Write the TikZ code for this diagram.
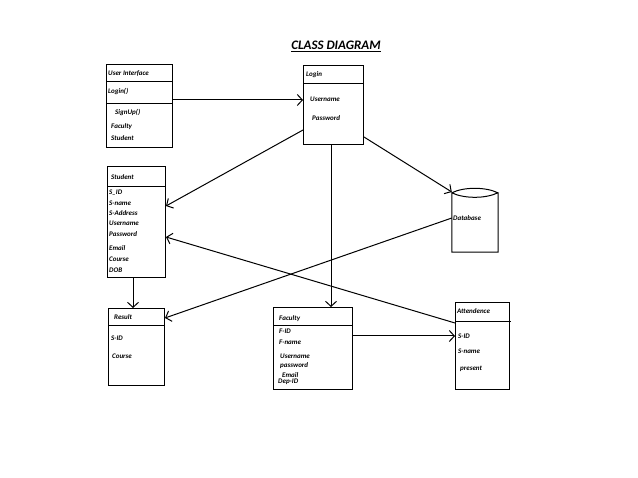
\documentclass[tikz,border=0pt]{standalone}
\usepackage{fontspec}
\setmainfont{Carlito}
\usetikzlibrary{calc,arrows.meta}

\tikzset{
  cls/.style={rectangle,draw,line width=1pt,anchor=north west,inner sep=0pt},
  txt/.style={anchor=west,font=\bfseries\itshape\fontsize{7}{8}\selectfont,inner sep=1pt},
  link/.style={->,>={Straight Barb[length=5pt,width=11pt]},line width=1pt}
}

\begin{document}
\begin{tikzpicture}[x=1pt,y=-1pt]
\useasboundingbox (0,0) rectangle (638,478);
\small
  \node[font=\bfseries\itshape\fontsize{13}{15}\selectfont] (title) at (336,46) {\underline{CLASS DIAGRAM}};

  % classes
  \node[cls,minimum width=66pt,minimum height=83pt] (ui) at (106,64) {};
  \draw[line width=1pt] (106,82) -- (172,82);
  \draw[line width=1pt] (106,104) -- (172,104);
  \node[txt] (uiname) at (107,73) {User Interface};
  \node[txt] (uilogin) at (107,92) {Login()};
  \node[txt] (uisign) at (114,113) {SignUp()};
  \node[txt] (uifac) at (110,127) {Faculty};
  \node[txt] (uistu) at (110,138) {Student};

  \node[cls,minimum width=60pt,minimum height=79pt] (login) at (303,65) {};
  \draw[line width=1pt] (303,84) -- (363,84);
  \node[txt] (loginname) at (305,75) {Login};
  \node[txt] (loginuser) at (309,99) {Username};
  \node[txt] (loginpass) at (311,118) {Password};

  \node[cls,minimum width=58pt,minimum height=111pt] (student) at (107,166) {};
  \draw[line width=1pt] (107,187) -- (165,187);
  \node[txt] (stuname) at (110,177) {Student};
  \foreach \t/\y in {S\_ID/193,S-name/203,S-Address/213,Username/223,Password/234,Email/248,Course/259,DOB/270}
    \node[txt] (stu\y) at (108,\y) {\t};

  % database cylinder
  \node[rectangle,minimum width=46pt,minimum height=62pt,inner sep=0pt] (db) at (475,221) {};
  \draw[line width=1pt] (db.north west) ++(0,3) .. controls +(12,-6) and +(-12,-6) .. ++(46,0)
    .. controls +(-12,6) and +(12,6) .. ++(-46,0) -- (db.south west) -- (db.south east) -- ++(0,-59);
  \node[txt] (dbname) at (452,218) {Database};

  \node[cls,minimum width=56pt,minimum height=77pt] (result) at (108,308) {};
  \draw[line width=1pt] (108,326) -- (164,326);
  \node[txt] (resname) at (113,317) {Result};
  \node[txt] (resid) at (110,338) {S-ID};
  \node[txt] (rescourse) at (111,356) {Course};

  \node[cls,minimum width=79pt,minimum height=82pt] (faculty) at (273,307) {};
  \draw[line width=1pt] (273,326) -- (353,326);
  \node[txt] (facname) at (278,319) {Faculty};
  \node[txt] (facid) at (278,331) {F-ID};
  \node[txt] (facfn) at (278,342) {F-name};
  \node[txt] (facuser) at (279,356) {Username};
  \node[txt] (facpass) at (279,366) {password};
  \node[txt] (facmail) at (281,375) {Email};
  \node[txt] (facdep) at (277,382) {Dep-ID};

  \node[cls,minimum width=54pt,minimum height=87pt] (att) at (455,302) {};
  \draw[line width=1pt] (455,322) -- (511,322);
  \node[txt] (attname) at (456,311) {Attendence};
  \node[txt] (attid) at (457,336) {S-ID};
  \node[txt] (attsn) at (457,351) {S-name};
  \node[txt] (attpr) at (459,369) {present};

  % connectors
  \draw[link] (ui.east |- 0,100) -- (login.west |- 0,100);
  \draw[link] (login.west |- 0,130) -- (student.east |- 0,206);
  \draw[link] (login.east |- 0,137) -- (db.north west |- 0,192);
  \draw[link] (login.south -| 331,0) -- (faculty.north -| 331,0);
  \draw[link] (db.west |- 0,218) -- (result.east |- 0,318);
  \draw[link] (att.west |- 0,323) -- (student.east |- 0,237);
  \draw[link] (student.south -| 133,0) -- (result.north -| 133,0);
  \draw[link] (faculty.east |- 0,336) -- (att.west |- 0,336);
\end{tikzpicture}
\end{document}
